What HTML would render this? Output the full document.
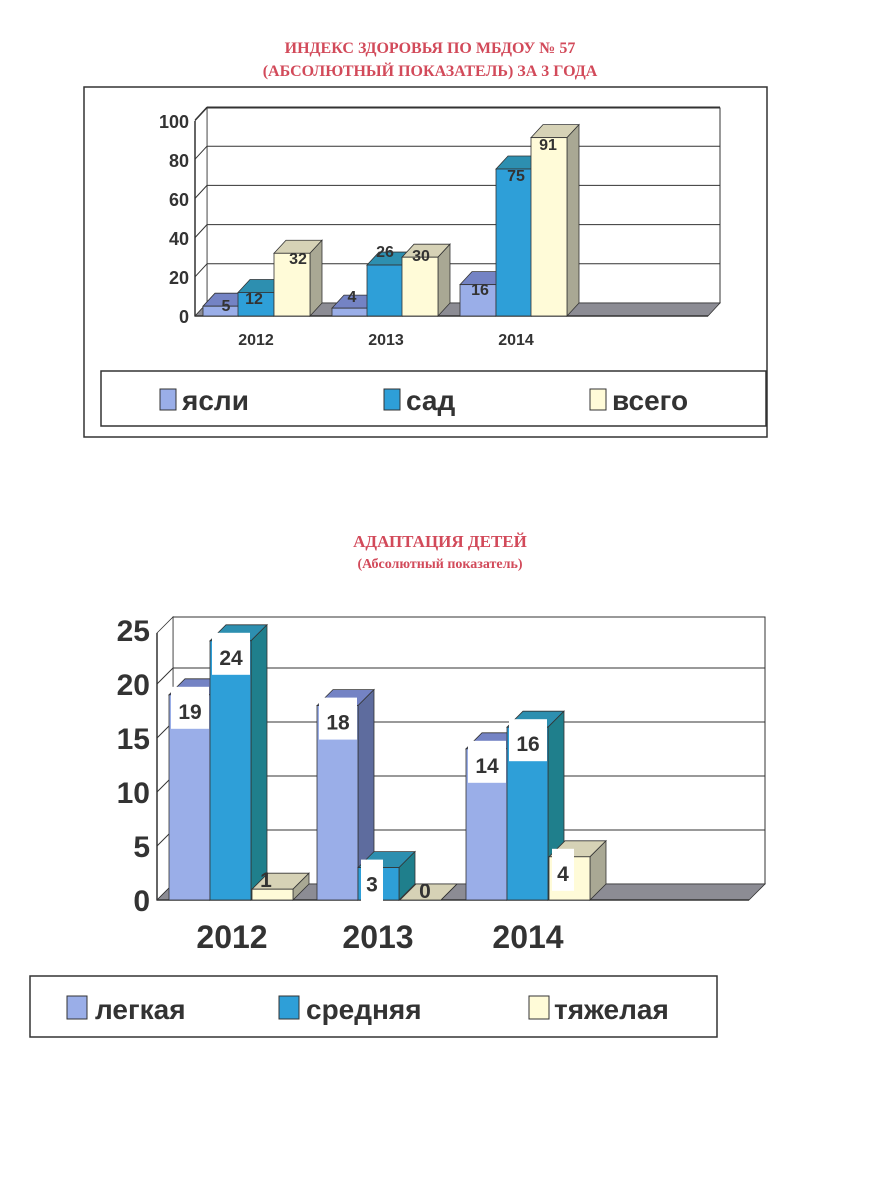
<!DOCTYPE html>
<html><head><meta charset="utf-8"><style>
body{margin:0;background:#fff;}
svg{display:block;}
.t{font-family:"Liberation Serif",serif;font-weight:bold;fill:#d24a5a;text-anchor:middle;}
.a{font-family:"Liberation Sans",sans-serif;font-weight:bold;fill:#333;}
</style></head><body>
<svg id="s" width="873" height="1200" viewBox="0 0 873 1200" xmlns="http://www.w3.org/2000/svg">
<rect width="873" height="1200" fill="#fff"/>
<text class="t" x="430" y="53" font-size="16">ИНДЕКС  ЗДОРОВЬЯ  ПО МБДОУ № 57</text>
<text class="t" x="430" y="76" font-size="16">(АБСОЛЮТНЫЙ  ПОКАЗАТЕЛЬ) ЗА 3 ГОДА</text>
<rect x="84" y="87" width="683" height="350" fill="none" stroke="#333" stroke-width="1.5"/>
<rect x="101" y="371" width="665" height="55" fill="none" stroke="#333" stroke-width="1.5"/>
<g id="c1"></g>
<g class="a" font-size="18" text-anchor="end">
<text x="189" y="323">0</text><text x="189" y="284">20</text><text x="189" y="245">40</text><text x="189" y="206">60</text><text x="189" y="167">80</text><text x="189" y="128">100</text>
</g>
<g class="a" font-size="16" text-anchor="middle">
<text x="256" y="345">2012</text><text x="386" y="345">2013</text><text x="516" y="345">2014</text>
</g>
<g class="a" font-size="16" text-anchor="middle">
<text x="226" y="311">5</text><text x="254" y="304">12</text><text x="298" y="264">32</text>
<text x="352" y="302">4</text><text x="385" y="257">26</text><text x="421" y="261">30</text>
<text x="480" y="295">16</text><text x="516" y="181">75</text><text x="548" y="150">91</text>
</g>
<rect x="160" y="389" width="16" height="21" fill="#9aaee8" stroke="#333"/>
<text class="a" x="182" y="410" font-size="28">ясли</text>
<rect x="384" y="389" width="16" height="21" fill="#2e9fd8" stroke="#333"/>
<text class="a" x="406" y="410" font-size="28">сад</text>
<rect x="590" y="389" width="16" height="21" fill="#fffbd8" stroke="#333"/>
<text class="a" x="612" y="410" font-size="28">всего</text>

<text class="t" x="440" y="547" font-size="17">АДАПТАЦИЯ ДЕТЕЙ</text>
<text class="t" x="440" y="568" font-size="14">(Абсолютный показатель)</text>
<g id="c2"></g>
<g class="a" font-size="30" text-anchor="end">
<text x="150" y="911">0</text><text x="150" y="857">5</text><text x="150" y="803">10</text><text x="150" y="749">15</text><text x="150" y="695">20</text><text x="150" y="641">25</text>
</g>
<g class="a" font-size="32" text-anchor="middle">
<text x="232" y="948">2012</text><text x="378" y="948">2013</text><text x="528" y="948">2014</text>
</g>
<rect x="30" y="976" width="687" height="61" fill="none" stroke="#333" stroke-width="1.5"/>
<rect x="67" y="996" width="20" height="23" fill="#9aaee8" stroke="#333"/>
<text class="a" x="95" y="1019" font-size="28">легкая</text>
<rect x="279" y="996" width="20" height="23" fill="#2e9fd8" stroke="#333"/>
<text class="a" x="306" y="1019" font-size="28">средняя</text>
<rect x="529" y="996" width="20" height="23" fill="#fffbd8" stroke="#333"/>
<text class="a" x="554" y="1019" font-size="28">тяжелая</text>
</svg>
<script>
var NS="http://www.w3.org/2000/svg";
function el(g,t,a){var e=document.createElementNS(NS,t);for(var k in a)e.setAttribute(k,a[k]);g.appendChild(e);return e;}
function poly(g,pts,f){el(g,"polygon",{points:pts.map(p=>p.join(",")).join(" "),fill:f,stroke:"#333","stroke-width":"0.8"});}
var C=[["#9aaee8","#7483c4","#5e6c9e"],["#2e9fd8","#2d8fb0","#1f7f8c"],["#fffbd8","#d6d2b6","#a9a894"]];
function chart(id,ax,y0,su,dx,dy,wallR,top,bars,bw,tick){
 var g=document.getElementById(id);
 el(g,"rect",{x:ax+dx,y:top,width:wallR-ax-dx,height:y0+dy-top,fill:"#fff",stroke:"#333","stroke-width":"1"});
 poly(g,[[ax,y0],[ax+dx,y0+dy],[ax+dx,top],[ax,top-dy]],"#fff");
 for(var v=tick;v*su<=y0+dy-top+1;v+=tick){var y=y0+dy-v*su;el(g,"line",{x1:ax,y1:y-dy,x2:ax+dx,y2:y,stroke:"#333"});el(g,"line",{x1:ax+dx,y1:y,x2:wallR,y2:y,stroke:"#333"});}
 poly(g,[[ax,y0],[wallR-dx,y0],[wallR,y0+dy],[ax+dx,y0+dy]],"#8c8c94");
 el(g,"line",{x1:ax,y1:y0,x2:wallR-dx,y2:y0,stroke:"#333","stroke-width":"1.5"});
 el(g,"line",{x1:ax,y1:y0,x2:ax,y2:top-dy,stroke:"#333","stroke-width":"1.5"});
 bars.forEach(function(b){var x=b[0],h=b[1]*su,c=C[b[2]],yt=y0-h;
  poly(g,[[x,yt],[x+dx,yt+dy],[x+bw+dx,yt+dy],[x+bw,yt]],c[1]);
  poly(g,[[x+bw,yt],[x+bw+dx,yt+dy],[x+bw+dx,y0+dy],[x+bw,y0]],c[2]);
  el(g,"rect",{x:x,y:yt,width:bw,height:h,fill:c[0],stroke:"#333","stroke-width":"0.8"});});
 return g;}
chart("c1",195,316,1.96,12,-13,720,108,[[203,5,0],[238,12,1],[274,32,2],[332,4,0],[367,26,1],[402,30,2],[460,16,0],[496,75,1],[531,91,2]],36,20);
var g2=chart("c2",157,900,10.8,16,-16,765,617,[[169,19,0],[210,24,1],[252,1,2],[317,18,0],[358,3,1],[400,0,2],[466,14,0],[507,16,1],[549,4,2]],41,5);
var L=[[169,19,"19"],[210,24,"24"],[253,1,"1"],[317,18,"18"],[359,3,"3"],[412,0,"0"],[466,14,"14"],[507,16,"16"],[550,4,"4"]];
L.forEach(function(l){var y=900-l[1]*10.8;var w=l[2].length>1?38:22;var x=l[0]+2;
 if(l[1]>2){el(g2,"rect",{x:x,y:y-8,width:w,height:42,fill:"#fff"});}
 var t=el(g2,"text",{x:x+w/2,y:l[1]>2?y+24:y-2,"font-size":"21","text-anchor":"middle","class":"a"});t.textContent=l[2];});
</script>
</body></html>
